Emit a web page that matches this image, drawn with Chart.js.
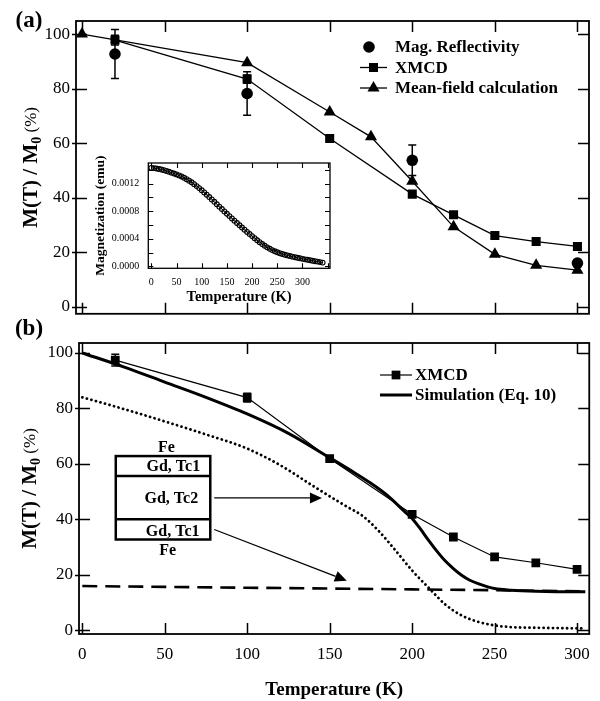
<!DOCTYPE html>
<html>
<head>
<meta charset="utf-8">
<script src="https://cdn.jsdelivr.net/npm/chart.js@4.4.1/dist/chart.umd.min.js"></script>
<style>
  html, body { margin: 0; padding: 0; background: #fff; }
  #wrap { position: relative; width: 600px; height: 701px; overflow: hidden; }
  canvas { position: absolute; }
</style>
</head>
<body>
<div id="wrap">
  <canvas id="chartA" style="left:0px;top:0px" width="600" height="330"></canvas>
  <canvas id="chartB" style="left:0px;top:318px" width="600" height="383"></canvas>
  <canvas id="inset" style="left:85px;top:148px" width="255" height="160"></canvas>
</div>
<script>
// ---- panel (a) data ----
const reflT = [20, 100, 200, 300];
const reflM = [92.7, 78.2, 53.7, 16.0];
const reflErr = [9, 8, 5.6, 0];

const xmcdT = [20, 100, 150, 200, 225, 250, 275, 300];
const xmcdA = [97.8, 83.5, 61.7, 41.3, 33.7, 26.1, 23.9, 22.1];
const xmcdErrA = [1.8, 1.5, 0, 0, 0, 0, 0, 0];

const mfT = [0, 100, 150, 175, 200, 225, 250, 275, 300];
const mfM = [100, 89.5, 71.4, 62.3, 46.0, 29.3, 19.2, 15.2, 13.4];

// ---- inset data (SQUID magnetization, emu) ----
const insetT = [0, 5, 10, 15, 20, 25, 30, 35, 40, 45, 50, 55, 60, 65, 70, 75, 80, 85, 90, 95,
  100, 105, 110, 115, 120, 125, 130, 135, 140, 145, 150, 155, 160, 165, 170, 175, 180, 185, 190, 195,
  200, 205, 210, 215, 220, 225, 230, 235, 240, 245, 250, 255, 260, 265, 270, 275, 280, 285, 290, 295,
  300, 305, 310, 315, 320, 325, 330, 335, 340];
const insetM = [0.001430, 0.001426, 0.001420, 0.001413, 0.001405, 0.001396, 0.001385, 0.001373, 0.001360, 0.001348,
  0.001335, 0.001320, 0.001305, 0.001286, 0.001265, 0.001243, 0.001220, 0.001193, 0.001165, 0.001136,
  0.001105, 0.001073, 0.001040, 0.001006, 0.000972, 0.000937, 0.000902, 0.000867, 0.000832, 0.000798,
  0.000764, 0.000730, 0.000696, 0.000663, 0.000630, 0.000597, 0.000565, 0.000533, 0.000501, 0.000470,
  0.000440, 0.000410, 0.000380, 0.000352, 0.000325, 0.000300, 0.000277, 0.000256, 0.000237, 0.000220,
  0.000205, 0.000192, 0.000180, 0.000170, 0.000160, 0.000151, 0.000142, 0.000134, 0.000126, 0.000118,
  0.000110, 0.000103, 0.000096, 0.000089, 0.000082, 0.000076, 0.000070, 0.000063, 0.000056];

// ---- panel (b) data ----
const xmcdB = [97.4, 83.9, 61.9, 41.8, 33.6, 26.4, 24.3, 21.9];
const xmcdErrB = [2.1, 1.6, 0, 0, 0, 0, 0, 0];

const simT = [0, 25, 50, 75, 100, 125, 150, 165, 175, 185, 195, 200, 205, 210, 215, 220, 225, 230, 235, 240, 250, 260, 275, 300, 305];
const simM = [100, 95, 89.5, 84, 78, 71, 62.2, 56.8, 53, 48.6, 43, 40.3, 36.5, 32.4, 28.5, 25, 22.2, 19.8, 18, 16.8, 15, 14.4, 14, 13.8, 13.8];

const dotT = [0, 25, 50, 75, 100, 120, 140, 150, 160, 170, 180, 190, 200, 210, 220, 230, 240, 250, 260, 280, 305];
const dotM = [84, 79.8, 75.3, 70.6, 65.5, 59.5, 52, 48.3, 44.7, 41.2, 35.6, 28.7, 21.5, 15.3, 9.3, 5.3, 3.0, 1.7, 1.1, 0.8, 0.6];

const dashT = [0, 50, 100, 150, 200, 250, 305];
const dashM = [15.9, 15.6, 15.3, 15.0, 14.7, 14.4, 14.0];

// ---- ticks ----
const xTicks = [0, 50, 100, 150, 200, 250, 300];
const yTicks = [0, 20, 40, 60, 80, 100];
const insetXTicks = [0, 50, 100, 150, 200, 250, 300, 350];
const insetXLabels = ['0', '50', '100', '150', '200', '250', '300', ''];
const insetYTicks = [0, 0.0004, 0.0008, 0.0012];
const insetYMinor = [0.0002, 0.0006, 0.0010, 0.0014];

// layer sketch in panel (b), data units
const stackBox = { left: 20.3, right: 77.6, top: 62.8, bottom: 32.7, lines: [55.6, 40.0] };
const stackLabels = [['Fe', 51, 66.1], ['Gd, Tc1', 55.2, 59.2], ['Gd, Tc2', 54, 47.7], ['Gd, Tc1', 54.8, 35.8], ['Fe', 51.8, 28.8]];
const arrows = [[80, 47.7, 145.3, 47.7], [80, 36.3, 160.4, 17.8]];

const F = '"Liberation Serif", "Times New Roman", serif';
const pts = (xs, ys) => xs.map((t, i) => ({ x: t, y: ys[i] }));

function drawMarker(ctx, style, x, y, r) {
  ctx.beginPath();
  if (style === 'circle') {
    ctx.arc(x, y, r, 0, Math.PI * 2);
  } else if (style === 'rect') {
    const s = r * Math.SQRT1_2;
    ctx.rect(x - s, y - s, 2 * s, 2 * s);
  } else if (style === 'triangle') {
    ctx.moveTo(x, y - r);
    ctx.lineTo(x + r * 0.866, y + r / 2);
    ctx.lineTo(x - r * 0.866, y + r / 2);
    ctx.closePath();
  }
  ctx.fill();
}

// inward ticks on all four sides plus the frame
const frameTicks = {
  id: 'frameTicks',
  afterDatasetsDraw(chart, args, o) {
    const { ctx, chartArea: a, scales: { x, y } } = chart;
    ctx.save();
    ctx.strokeStyle = '#000';
    ctx.lineWidth = o.tickWidth;
    ctx.beginPath();
    o.xTicks.forEach(v => {
      const px = Math.round(x.getPixelForValue(v)) + 0.5;
      ctx.moveTo(px, a.bottom); ctx.lineTo(px, a.bottom - o.len);
      ctx.moveTo(px, a.top); ctx.lineTo(px, a.top + o.len);
    });
    o.yTicks.forEach(v => {
      const py = Math.round(y.getPixelForValue(v)) + 0.5;
      ctx.moveTo(a.left - o.out, py); ctx.lineTo(a.left + o.len, py);
      ctx.moveTo(a.right, py); ctx.lineTo(a.right - o.len, py);
    });
    ctx.stroke();
    ctx.lineWidth = o.frameWidth;
    ctx.strokeRect(a.left, a.top, a.width, a.height);
    ctx.restore();
  }
};

const errorBars = {
  id: 'errorBars',
  afterDatasetsDraw(chart) {
    const { ctx, scales: { x, y } } = chart;
    ctx.save();
    ctx.strokeStyle = '#000';
    ctx.lineWidth = 1.5;
    chart.data.datasets.forEach(ds => {
      if (!ds.errors) return;
      ds.data.forEach((p, j) => {
        const e = ds.errors[j];
        if (!e) return;
        const px = x.getPixelForValue(p.x);
        const t = y.getPixelForValue(p.y + e), b = y.getPixelForValue(p.y - e);
        ctx.beginPath();
        ctx.moveTo(px, t); ctx.lineTo(px, b);
        ctx.moveTo(px - 4, t); ctx.lineTo(px + 4, t);
        ctx.moveTo(px - 4, b); ctx.lineTo(px + 4, b);
        ctx.stroke();
      });
    });
    ctx.restore();
  }
};

const sampleLegend = {
  id: 'sampleLegend',
  afterDraw(chart, args, o) {
    const ctx = chart.ctx;
    ctx.save();
    ctx.fillStyle = '#000';
    ctx.strokeStyle = '#000';
    chart.data.datasets.filter(d => d.label).forEach((ds, k) => {
      const yy = o.y + k * o.dy;
      if (ds.showLine !== false) {
        ctx.lineWidth = ds.borderWidth;
        ctx.beginPath();
        ctx.moveTo(o.x0, yy); ctx.lineTo(o.x1, yy);
        ctx.stroke();
      }
      if (ds.pointRadius > 0) {
        const mx = ds.showLine === false ? o.x0 + 9 : (o.x0 + o.x1) / 2;
        drawMarker(ctx, ds.pointStyle, mx, yy, ds.pointRadius);
      }
      ctx.font = 'bold 17px ' + F;
      ctx.textBaseline = 'middle';
      ctx.textAlign = 'left';
      ctx.fillText(ds.label, o.tx, yy + 1);
    });
    ctx.restore();
  }
};

// y title "M(T) / M0 (%)" with subscript, and the panel tag
const yTitle = {
  id: 'yTitle',
  afterDraw(chart, args, o) {
    const { ctx, chartArea: a } = chart;
    ctx.save();
    ctx.fillStyle = '#000';
    ctx.textBaseline = 'alphabetic';
    const f1 = 'bold 21px ' + F, f2 = 'bold 14px ' + F, f3 = '17px ' + F;
    ctx.font = f1; const w1 = ctx.measureText('M(T) / M').width;
    ctx.font = f2; const w2 = ctx.measureText('0').width;
    ctx.font = f3; const w3 = ctx.measureText(' (%)').width;
    const total = w1 + w2 + w3;
    ctx.translate(o.x, (a.top + a.bottom) / 2);
    ctx.rotate(-Math.PI / 2);
    let cx = -total / 2;
    ctx.font = f1; ctx.fillText('M(T) / M', cx, 7); cx += w1;
    ctx.font = f2; ctx.fillText('0', cx, 11); cx += w2;
    ctx.font = f3; ctx.fillText(' (%)', cx, 6);
    ctx.restore();
    ctx.save();
    ctx.font = 'bold 23px ' + F;
    ctx.textAlign = 'center';
    ctx.textBaseline = 'middle';
    ctx.fillText(o.tag, o.tagX, o.tagY);
    ctx.restore();
  }
};

const layerSketch = {
  id: 'layerSketch',
  afterDatasetsDraw(chart) {
    const { ctx, scales: { x, y } } = chart;
    ctx.save();
    ctx.strokeStyle = '#000';
    ctx.fillStyle = '#000';
    const l = x.getPixelForValue(stackBox.left), r = x.getPixelForValue(stackBox.right);
    const t = y.getPixelForValue(stackBox.top), b = y.getPixelForValue(stackBox.bottom);
    ctx.lineWidth = 2.5;
    ctx.strokeRect(l, t, r - l, b - t);
    stackBox.lines.forEach(v => {
      const py = y.getPixelForValue(v);
      ctx.beginPath(); ctx.moveTo(l, py); ctx.lineTo(r, py); ctx.stroke();
    });
    ctx.font = 'bold 16px ' + F;
    ctx.textAlign = 'center';
    ctx.textBaseline = 'middle';
    stackLabels.forEach(([txt, tx, ty]) => ctx.fillText(txt, x.getPixelForValue(tx), y.getPixelForValue(ty) + 1));
    ctx.lineWidth = 1.3;
    arrows.forEach(([x1, y1, x2, y2]) => {
      const ax = x.getPixelForValue(x1), ay = y.getPixelForValue(y1);
      const bx = x.getPixelForValue(x2), by = y.getPixelForValue(y2);
      const ang = Math.atan2(by - ay, bx - ax);
      const hl = 12, hw = 5.5;
      const cx = bx - hl * Math.cos(ang), cy = by - hl * Math.sin(ang);
      ctx.beginPath(); ctx.moveTo(ax, ay); ctx.lineTo(cx, cy); ctx.stroke();
      ctx.beginPath();
      ctx.moveTo(bx, by);
      ctx.lineTo(cx - hw * Math.sin(ang), cy + hw * Math.cos(ang));
      ctx.lineTo(cx + hw * Math.sin(ang), cy - hw * Math.cos(ang));
      ctx.closePath();
      ctx.fill();
    });
    ctx.restore();
  }
};

Chart.defaults.font.family = F;
Chart.defaults.color = '#000';

const noGrid = { display: false, drawTicks: false };
const noBorder = { display: false };

// ---------- panel (a) ----------
new Chart(document.getElementById('chartA'), {
  type: 'line',
  data: {
    datasets: [
      { label: 'Mag. Reflectivity', data: pts(reflT, reflM), showLine: false, pointStyle: 'circle', pointRadius: 5.8,
        pointBackgroundColor: '#000', pointBorderWidth: 0, borderColor: '#000', borderWidth: 0, errors: reflErr },
      { label: 'XMCD', data: pts(xmcdT, xmcdA), pointStyle: 'rect', pointRadius: 6.4, pointBackgroundColor: '#000',
        pointBorderWidth: 0, borderColor: '#000', borderWidth: 1.3, errors: xmcdErrA },
      { label: 'Mean-field calculation', data: pts(mfT, mfM), pointStyle: 'triangle', pointRadius: 7,
        pointBackgroundColor: '#000', pointBorderWidth: 0, borderColor: '#000', borderWidth: 1.3 }
    ]
  },
  options: {
    responsive: false, animation: false, devicePixelRatio: 1,
    layout: { padding: { left: 0, top: 21, right: 11, bottom: 0 } },
    plugins: {
      legend: { display: false }, tooltip: { enabled: false },
      frameTicks: { xTicks: xTicks, yTicks: yTicks, len: 11, out: 4, tickWidth: 1.5, frameWidth: 1.8 },
      sampleLegend: { x0: 360, x1: 387, tx: 395, y: 47, dy: 20.5 },
      yTitle: { x: 30, tag: '(a)', tagX: 29, tagY: 21 }
    },
    scales: {
      x: { type: 'linear', min: -3.6, max: 307, grid: noGrid, border: noBorder, ticks: { display: false },
        afterBuildTicks: s => { s.ticks = xTicks.map(v => ({ value: v })); },
        afterFit: s => { s.height = 13; } },
      y: { type: 'linear', min: -2.6, max: 104.8, grid: noGrid, border: noBorder,
        ticks: { font: { size: 17 }, color: '#000', padding: 6 },
        afterBuildTicks: s => { s.ticks = yTicks.map(v => ({ value: v })); },
        afterFit: s => { s.width = 76; } }
    }
  },
  plugins: [errorBars, frameTicks, sampleLegend, yTitle]
});

// ---------- inset ----------
new Chart(document.getElementById('inset'), {
  type: 'line',
  data: {
    datasets: [
      { data: pts(insetT, insetM), pointStyle: 'circle', pointRadius: 2.4, pointBorderWidth: 1.1,
        pointBorderColor: '#000', pointBackgroundColor: 'rgba(255,255,255,0)', borderColor: '#000', borderWidth: 1 }
    ]
  },
  options: {
    responsive: false, animation: false, devicePixelRatio: 1,
    layout: { padding: { left: 0, top: 6, right: 10, bottom: 0 } },
    plugins: {
      legend: { display: false }, tooltip: { enabled: false },
      frameTicks: { xTicks: insetXTicks, yTicks: insetYTicks.concat(insetYMinor), len: 5, out: 0, tickWidth: 1.1, frameWidth: 1.3 }
    },
    scales: {
      x: { type: 'linear', min: -6, max: 354.6, grid: noGrid, border: noBorder,
        ticks: { font: { size: 10 }, color: '#000', padding: 8, autoSkip: false, maxRotation: 0,
          callback: (v, i) => insetXLabels[i] },
        title: { display: true, text: 'Temperature (K)', font: { size: 14.5, weight: 'bold' }, padding: { top: 0, bottom: 2 } },
        afterBuildTicks: s => { s.ticks = insetXTicks.map(v => ({ value: v })); },
        afterFit: s => { s.height = 39.7; } },
      y: { type: 'linear', min: -0.000027, max: 0.0015, grid: noGrid, border: noBorder,
        ticks: { font: { size: 10 }, color: '#000', padding: 9, callback: v => v.toFixed(4) },
        title: { display: true, text: 'Magnetization (emu)', font: { size: 13.5, weight: 'bold' }, padding: { top: 7, bottom: 0 } },
        afterBuildTicks: s => { s.ticks = insetYTicks.map(v => ({ value: v })); },
        afterFit: s => { s.width = 63.3; } }
    }
  },
  plugins: [frameTicks]
});

// ---------- panel (b) ----------
new Chart(document.getElementById('chartB'), {
  type: 'line',
  data: {
    datasets: [
      { label: 'XMCD', data: pts(xmcdT, xmcdB), pointStyle: 'rect', pointRadius: 6.2, pointBackgroundColor: '#000',
        pointBorderWidth: 0, borderColor: '#000', borderWidth: 1.2, errors: xmcdErrB },
      { label: 'Simulation (Eq. 10)', data: pts(simT, simM), pointRadius: 0, borderColor: '#000', borderWidth: 3,
        cubicInterpolationMode: 'monotone' },
      { data: pts(dotT, dotM), pointRadius: 0, borderColor: '#000', borderWidth: 2.8, borderDash: [0.1, 4.6],
        borderCapStyle: 'round', cubicInterpolationMode: 'monotone' },
      { data: pts(dashT, dashM), pointRadius: 0, borderColor: '#000', borderWidth: 2.6, borderDash: [15, 8] }
    ]
  },
  options: {
    responsive: false, animation: false, devicePixelRatio: 1,
    layout: { padding: { left: 0, top: 25, right: 8.3, bottom: 0 } },
    plugins: {
      legend: { display: false }, tooltip: { enabled: false },
      frameTicks: { xTicks: xTicks, yTicks: yTicks, len: 11, out: 4, tickWidth: 1.5, frameWidth: 1.8 },
      sampleLegend: { x0: 380, x1: 412, tx: 415, y: 57, dy: 20 },
      yTitle: { x: 29, tag: '(b)', tagX: 29, tagY: 11 }
    },
    scales: {
      x: { type: 'linear', min: -2, max: 307.4, grid: noGrid, border: noBorder,
        ticks: { font: { size: 17 }, color: '#000', padding: 10, autoSkip: false, maxRotation: 0 },
        title: { display: true, text: 'Temperature (K)', font: { size: 19, weight: 'bold' }, padding: { top: 0, bottom: 0 } },
        afterBuildTicks: s => { s.ticks = xTicks.map(v => ({ value: v })); },
        afterFit: s => { s.height = 67; } },
      y: { type: 'linear', min: -1.4, max: 103.6, grid: noGrid, border: noBorder,
        ticks: { font: { size: 17 }, color: '#000', padding: 6 },
        afterBuildTicks: s => { s.ticks = yTicks.map(v => ({ value: v })); },
        afterFit: s => { s.width = 79; } }
    }
  },
  plugins: [errorBars, layerSketch, frameTicks, sampleLegend, yTitle]
});
</script>
</body>
</html>
